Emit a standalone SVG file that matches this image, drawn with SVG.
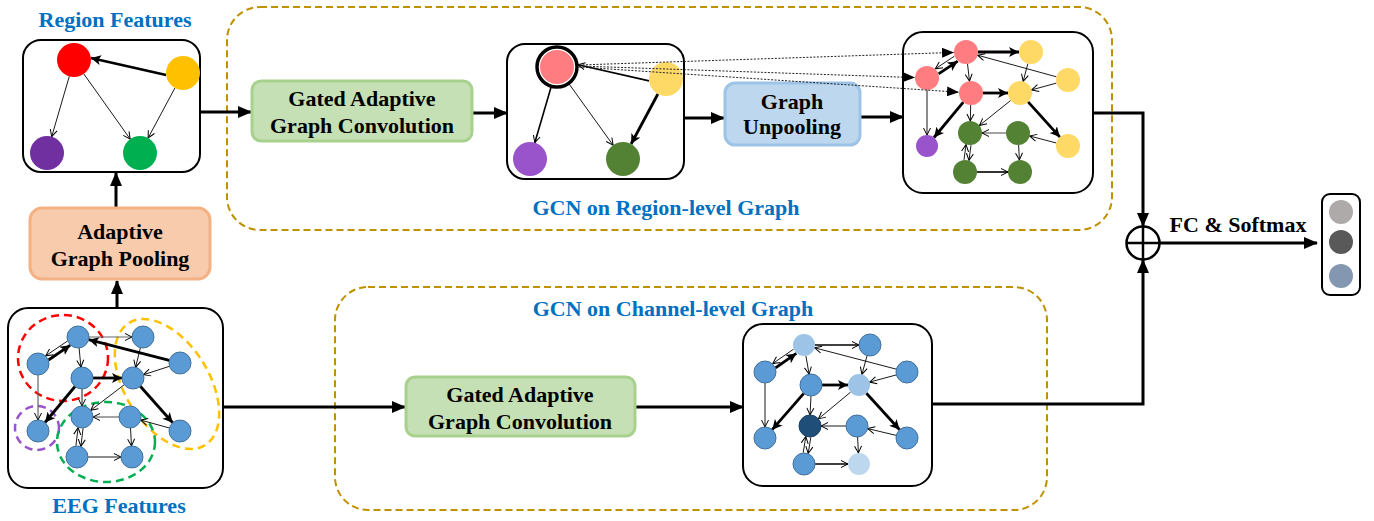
<svg xmlns="http://www.w3.org/2000/svg" width="1374" height="521" viewBox="0 0 1374 521">
  <defs>
    <style>
      .lbl { font-family: "Liberation Serif", "Times New Roman", serif; font-weight: bold; font-size: 22px; text-anchor: middle; fill: #000; }
      .ttl { font-family: "Liberation Serif", "Times New Roman", serif; font-weight: bold; font-size: 22px; text-anchor: middle; fill: #0070C0; }
      .frame { fill: #fff; stroke: #000; stroke-width: 2; }
      .group { fill: none; stroke: #BF9000; stroke-width: 2; stroke-dasharray: 7 4; }
      .flow { fill: none; stroke: #000; stroke-width: 3; }
      .e1 { stroke: #000; stroke-width: 0.9; fill: none; marker-end: url(#v); }
      .eg { stroke: #666; stroke-width: 1.2; fill: none; marker-end: url(#v); }
      .e2 { stroke: #000; stroke-width: 1.6; fill: none; marker-end: url(#v); }
      .e3 { stroke: #000; stroke-width: 2.8; fill: none; marker-end: url(#vt); }
      .dot { stroke: #222; stroke-width: 1; stroke-dasharray: 2 1.5; fill: none; marker-end: url(#dh); }
      .ch { fill: #5B9BD5; stroke: #41719C; stroke-width: 1; }
      .ring { fill: none; stroke-width: 2.5; stroke-dasharray: 8 5; }
    </style>
    <marker id="arr" markerUnits="userSpaceOnUse" markerWidth="14" markerHeight="12" refX="13" refY="6" orient="auto">
      <path d="M0,0 L14,6 L0,12 Z" fill="#000"/>
    </marker>
    <marker id="v" markerUnits="userSpaceOnUse" markerWidth="9" markerHeight="9" refX="7.5" refY="4.5" orient="auto">
      <path d="M0.5,1 L7.5,4.5 L0.5,8" fill="none" stroke="#000" stroke-width="1"/>
    </marker>
    <marker id="vt" markerUnits="userSpaceOnUse" markerWidth="11" markerHeight="11" refX="10" refY="5.5" orient="auto">
      <path d="M0,0.5 L10,5.5 L0,10.5 L2.5,5.5 Z" fill="#000"/>
    </marker>
    <marker id="dh" markerUnits="userSpaceOnUse" markerWidth="12" markerHeight="10" refX="12" refY="5" orient="auto">
      <path d="M0,0 L12,5 L0,10 Z" fill="#000"/>
    </marker>
  </defs>

  <rect width="1374" height="521" fill="#fff"/>

  <!-- dashed stage groups -->
  <g id="stage-region">
    <rect class="group" x="227" y="7" width="885" height="223" rx="33"/>
    <text class="ttl" x="666" y="215">GCN on Region-level Graph</text>
  </g>
  <g id="stage-channel">
    <rect class="group" x="335" y="287" width="712" height="223" rx="33"/>
    <text class="ttl" x="673" y="316">GCN on Channel-level Graph</text>
  </g>

  <!-- main data-flow connectors -->
  <g id="connectors">
    <line class="flow" x1="117" y1="308" x2="117" y2="281" marker-end="url(#arr)"/>
    <line class="flow" x1="116" y1="207" x2="116" y2="173" marker-end="url(#arr)"/>
    <line class="flow" x1="200" y1="112" x2="251" y2="112" marker-end="url(#arr)"/>
    <line class="flow" x1="473" y1="113" x2="507" y2="113" marker-end="url(#arr)"/>
    <line class="flow" x1="684" y1="118" x2="724" y2="118" marker-end="url(#arr)"/>
    <line class="flow" x1="861" y1="117" x2="903" y2="117" marker-end="url(#arr)"/>
    <polyline class="flow" points="1093,113 1143,113 1143,226" marker-end="url(#arr)"/>
    <line class="flow" x1="223" y1="407" x2="405" y2="407" marker-end="url(#arr)"/>
    <line class="flow" x1="636" y1="407" x2="743" y2="407" marker-end="url(#arr)"/>
    <polyline class="flow" points="932,404 1143,404 1143,260" marker-end="url(#arr)"/>
    <line class="flow" x1="1160" y1="243" x2="1317" y2="243" marker-end="url(#arr)"/>
  </g>

  <!-- region features graph -->
  <g id="region-features">
    <text class="ttl" x="115" y="27">Region Features</text>
    <rect class="frame" x="23" y="40" width="177" height="132" rx="18"/>
    <line class="e3" x1="166.1" y1="75" x2="90.9" y2="58"/>
    <line class="e1" x1="69.3" y1="76.3" x2="51.7" y2="136.7"/>
    <line class="e1" x1="83.8" y1="73.9" x2="130.2" y2="139.1"/>
    <line class="e1" x1="174.9" y1="88" x2="148.1" y2="138"/>
    <circle cx="74" cy="60" r="17" fill="#FF0000"/>
    <circle cx="183" cy="73" r="17" fill="#FFC000"/>
    <circle cx="47" cy="153" r="17" fill="#7030A0"/>
    <circle cx="140" cy="153" r="17" fill="#00B050"/>
  </g>

  <g id="pooling">
    <rect x="30" y="208" width="180" height="71" rx="12" fill="#F8CBAD" stroke="#F4B183" stroke-width="3"/>
    <text class="lbl" x="120" y="239">Adaptive</text>
    <text class="lbl" x="120" y="266">Graph Pooling</text>
  </g>

  <g id="gagc-region">
    <rect x="252" y="81" width="220" height="60" rx="9" fill="#C5E0B4" stroke="#A9D18E" stroke-width="3"/>
    <text class="lbl" x="362" y="106">Gated Adaptive</text>
    <text class="lbl" x="362" y="132.5">Graph Convolution</text>
  </g>

  <!-- region graph after convolution -->
  <g id="region-conv">
    <rect class="frame" x="507" y="44" width="177" height="135" rx="18"/>
    <line class="e2" x1="649.1" y1="80.9" x2="578" y2="64.7"/>
    <line class="e2" x1="551.1" y1="87.1" x2="534.8" y2="142.7"/>
    <line class="e1" x1="569.2" y1="84.1" x2="613.1" y2="145.2"/>
    <line class="e3" x1="657.9" y1="94" x2="631.1" y2="144"/>
    <circle cx="557" cy="67" r="17" fill="#FF7C80"/>
    <circle cx="557" cy="67" r="20" fill="none" stroke="#000" stroke-width="3.5"/>
    <circle cx="666" cy="79" r="17" fill="#FFD966"/>
    <circle cx="530" cy="159" r="17" fill="#9954CC"/>
    <circle cx="623" cy="159" r="17" fill="#548235"/>
  </g>

  <g id="unpooling">
    <rect x="725" y="83" width="135" height="62" rx="10" fill="#BDD7EE" stroke="#9DC3E6" stroke-width="3"/>
    <text class="lbl" x="792" y="109">Graph</text>
    <text class="lbl" x="792" y="134">Unpooling</text>
  </g>

  <!-- unpooled channel graph coloured by region -->
  <g id="region-unpooled">
    <rect class="frame" x="903" y="32" width="190" height="161" rx="20"/>
    <line class="e3" x1="978" y1="52" x2="1019" y2="52"/>
    <line class="e1" x1="954.4" y1="56.2" x2="935.3" y2="68.8"/>
    <line class="e3" x1="938.6" y1="73.8" x2="957.7" y2="61.2"/>
    <line class="e1" x1="967.5" y1="63.9" x2="969.5" y2="81.1"/>
    <line class="e1" x1="1056.4" y1="76.8" x2="977.6" y2="55.2"/>
    <line class="e1" x1="927" y1="90" x2="927" y2="135"/>
    <line class="e3" x1="983" y1="93" x2="1008" y2="93"/>
    <line class="e1" x1="1056.4" y1="83.1" x2="1031.6" y2="89.9"/>
    <line class="e1" x1="1027.9" y1="63.6" x2="1023.1" y2="81.4"/>
    <line class="e3" x1="963.3" y1="102.2" x2="934" y2="137.5"/>
    <line class="e1" x1="970.7" y1="105" x2="970.3" y2="121"/>
    <line class="e1" x1="1010.6" y1="100.5" x2="979.4" y2="125.5"/>
    <line class="e3" x1="1028.1" y1="101.9" x2="1059.9" y2="137.1"/>
    <line class="eg" x1="1006" y1="133" x2="982" y2="133"/>
    <line class="e1" x1="1056.4" y1="143" x2="1029.6" y2="136"/>
    <line class="e1" x1="1018.6" y1="145" x2="1019.4" y2="160"/>
    <line class="e1" x1="964" y1="159.8" x2="966" y2="144.6"/>
    <line class="e1" x1="971" y1="145.2" x2="969" y2="160.4"/>
    <line class="e2" x1="977" y1="172" x2="1008" y2="172"/>
    <circle cx="966" cy="52" r="12" fill="#FF7C80"/>
    <circle cx="927" cy="78" r="12" fill="#FF7C80"/>
    <circle cx="971" cy="93" r="12" fill="#FF7C80"/>
    <circle cx="1031" cy="52" r="12" fill="#FFD966"/>
    <circle cx="1068" cy="80" r="12" fill="#FFD966"/>
    <circle cx="1020" cy="93" r="12" fill="#FFD966"/>
    <circle cx="1068" cy="146" r="12" fill="#FFD966"/>
    <circle cx="927" cy="146" r="11" fill="#9954CC"/>
    <circle cx="970" cy="133" r="12" fill="#548235"/>
    <circle cx="1018" cy="133" r="12" fill="#548235"/>
    <circle cx="965" cy="172" r="12" fill="#548235"/>
    <circle cx="1020" cy="172" r="12" fill="#548235"/>
  </g>

  <!-- unpooling correspondences: selected region node to its channel nodes -->
  <g id="unpool-links">
    <line class="dot" x1="579" y1="65" x2="954" y2="52.4"/>
    <line class="dot" x1="579" y1="66" x2="915" y2="77.6"/>
    <line class="dot" x1="579" y1="67" x2="959" y2="92.2"/>
  </g>

  <!-- EEG channel graph with region groupings -->
  <g id="eeg-features">
    <rect class="frame" x="8" y="308" width="215" height="180" rx="20"/>
    <ellipse class="ring" cx="63" cy="358" rx="45" ry="43" stroke="#FF0000"/>
    <ellipse class="ring" cx="167" cy="384" rx="42" ry="72" transform="rotate(-32 167 384)" stroke="#FFC000"/>
    <circle class="ring" cx="37" cy="428" r="22" stroke="#9954CC"/>
    <ellipse class="ring" cx="106" cy="442" rx="49" ry="40" stroke="#00B050"/>
    <line class="eg" x1="89" y1="337" x2="132" y2="337"/>
    <line class="e1" x1="67.5" y1="341" x2="45.7" y2="355.8"/>
    <line class="e3" x1="48.5" y1="360" x2="70.3" y2="345.2"/>
    <line class="e1" x1="79.1" y1="347.9" x2="80.9" y2="367.1"/>
    <line class="e3" x1="169.3" y1="360.3" x2="88.7" y2="339.7"/>
    <line class="eg" x1="38" y1="375" x2="38" y2="420"/>
    <line class="e3" x1="93" y1="378" x2="122" y2="378"/>
    <line class="e1" x1="140.4" y1="347.7" x2="135.6" y2="367.3"/>
    <line class="e1" x1="169.5" y1="366.3" x2="143.5" y2="374.7"/>
    <line class="e3" x1="75" y1="386.5" x2="45" y2="422.5"/>
    <line class="e1" x1="82" y1="389" x2="82" y2="406"/>
    <line class="e1" x1="124.3" y1="384.7" x2="90.7" y2="410.3"/>
    <line class="e3" x1="140.3" y1="386.2" x2="172.7" y2="422.8"/>
    <line class="eg" x1="119" y1="417" x2="93" y2="417"/>
    <line class="e1" x1="169.4" y1="428" x2="140.6" y2="420"/>
    <line class="e1" x1="130.5" y1="428" x2="131.5" y2="446"/>
    <line class="e1" x1="75.9" y1="445.8" x2="78.1" y2="427.6"/>
    <line class="e1" x1="83.1" y1="428.2" x2="80.9" y2="446.4"/>
    <line class="e1" x1="88" y1="457" x2="121" y2="457"/>
    <circle class="ch" cx="78" cy="337" r="11"/>
    <circle class="ch" cx="38" cy="364" r="11"/>
    <circle class="ch" cx="82" cy="378" r="11"/>
    <circle class="ch" cx="143" cy="337" r="11"/>
    <circle class="ch" cx="180" cy="363" r="11"/>
    <circle class="ch" cx="133" cy="378" r="11"/>
    <circle class="ch" cx="38" cy="431" r="11"/>
    <circle class="ch" cx="82" cy="417" r="11"/>
    <circle class="ch" cx="130" cy="417" r="11"/>
    <circle class="ch" cx="180" cy="431" r="11"/>
    <circle class="ch" cx="77" cy="457" r="11"/>
    <circle class="ch" cx="132" cy="457" r="11"/>
    <text class="ttl" x="119" y="513">EEG Features</text>
  </g>

  <g id="gagc-channel">
    <rect x="406" y="377" width="229" height="59" rx="9" fill="#C5E0B4" stroke="#A9D18E" stroke-width="3"/>
    <text class="lbl" x="520" y="402">Gated Adaptive</text>
    <text class="lbl" x="520" y="428.5">Graph Convolution</text>
  </g>

  <!-- channel graph after convolution -->
  <g id="channel-conv">
    <rect class="frame" x="743" y="324" width="189" height="162" rx="20"/>
    <line class="e2" x1="815" y1="345" x2="859" y2="345"/>
    <line class="e1" x1="793.5" y1="349.2" x2="772.7" y2="363.6"/>
    <line class="e3" x1="775.5" y1="367.8" x2="796.3" y2="353.4"/>
    <line class="e1" x1="805.9" y1="355.8" x2="809.1" y2="374.2"/>
    <line class="e1" x1="896.4" y1="369.2" x2="814.6" y2="347.8"/>
    <line class="e1" x1="765" y1="383" x2="765" y2="427"/>
    <line class="e3" x1="822" y1="385" x2="848" y2="385"/>
    <line class="e1" x1="867.1" y1="355.6" x2="861.9" y2="374.4"/>
    <line class="e1" x1="896.4" y1="374.9" x2="869.6" y2="382.1"/>
    <line class="e3" x1="803.8" y1="393.3" x2="772.2" y2="429.7"/>
    <line class="e1" x1="811" y1="396" x2="810" y2="415"/>
    <line class="e1" x1="850.6" y1="392.1" x2="818.4" y2="418.9"/>
    <line class="e3" x1="866.4" y1="393.2" x2="899.6" y2="429.8"/>
    <line class="e1" x1="846" y1="426" x2="821" y2="426"/>
    <line class="e1" x1="896.3" y1="435.4" x2="867.7" y2="428.6"/>
    <line class="e1" x1="857.6" y1="437" x2="858.4" y2="453"/>
    <line class="e1" x1="803.2" y1="452.7" x2="805.8" y2="436.5"/>
    <line class="e1" x1="810.8" y1="437.3" x2="808.2" y2="453.5"/>
    <line class="e2" x1="815" y1="464" x2="848" y2="464"/>
    <circle cx="804" cy="345" r="11" fill="#9DC3E6"/>
    <circle class="ch" cx="765" cy="372" r="11"/>
    <circle class="ch" cx="811" cy="385" r="11"/>
    <circle class="ch" cx="870" cy="345" r="11"/>
    <circle class="ch" cx="907" cy="372" r="11"/>
    <circle cx="859" cy="385" r="11" fill="#9DC3E6"/>
    <circle class="ch" cx="765" cy="438" r="11"/>
    <circle cx="810" cy="426" r="11" fill="#1F4E79" stroke="#1a4060" stroke-width="1"/>
    <circle class="ch" cx="857" cy="426" r="11"/>
    <circle class="ch" cx="907" cy="438" r="11"/>
    <circle class="ch" cx="804" cy="464" r="11"/>
    <circle cx="859" cy="464" r="11" fill="#BDD7EE"/>
  </g>

  <!-- fusion and classifier -->
  <g id="fusion">
    <circle cx="1143" cy="243" r="16.5" fill="#fff" stroke="#000" stroke-width="2.5"/>
    <line x1="1126.5" y1="243" x2="1159.5" y2="243" stroke="#000" stroke-width="2.5"/>
    <line x1="1143" y1="226.5" x2="1143" y2="259.5" stroke="#000" stroke-width="2.5"/>
    <text class="lbl" x="1238" y="232">FC &amp; Softmax</text>
  </g>
  <g id="output">
    <rect class="frame" x="1322" y="194" width="38" height="101" rx="8"/>
    <circle cx="1341" cy="212" r="12" fill="#AEAAAA"/>
    <circle cx="1341" cy="242" r="12" fill="#595959"/>
    <circle cx="1341" cy="276" r="12" fill="#8497B0"/>
  </g>
</svg>
